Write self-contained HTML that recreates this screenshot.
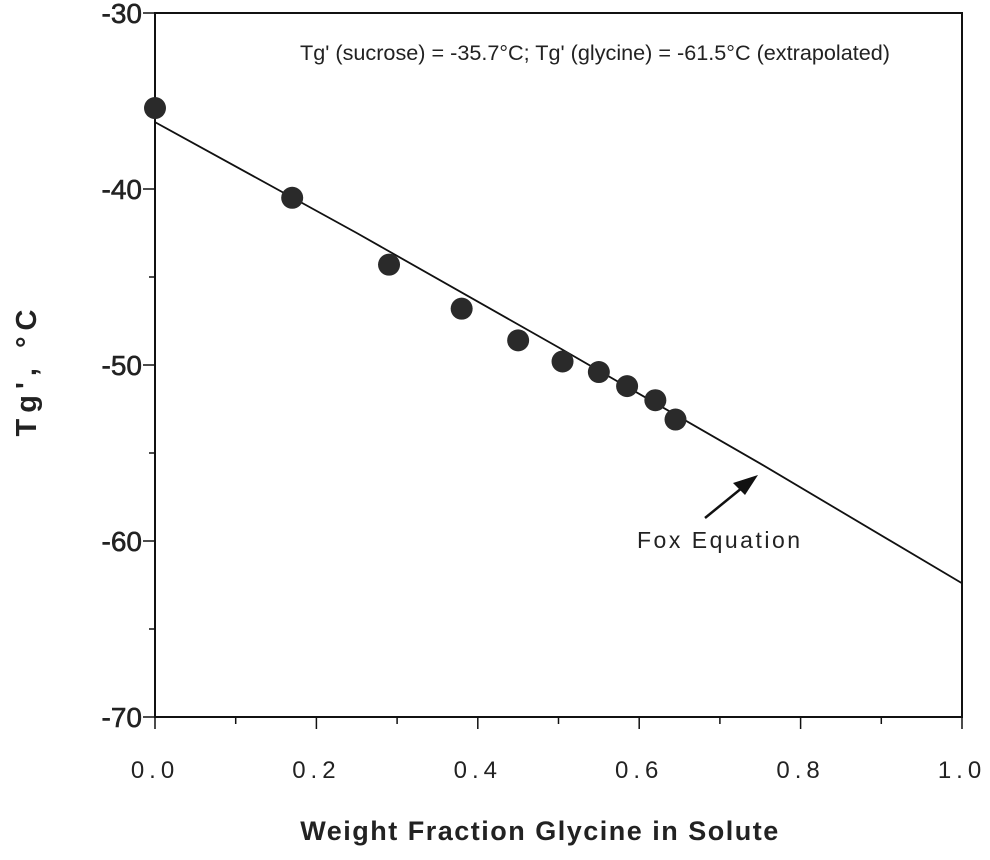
<!DOCTYPE html>
<html><head><meta charset="utf-8"><style>
body{margin:0;background:#fff}
svg text{font-family:"Liberation Sans",sans-serif;fill:#222}
</style></head><body>
<svg id="chart" width="990" height="855">
<g id="g"></g>
</svg>
<script>
const xTicks=[0,0.2,0.4,0.6,0.8,1.0];
const xTickLabels=["0.0","0.2","0.4","0.6","0.8","1.0"];
const yTicks=[-30,-40,-50,-60,-70];
const yTickLabels=["-30","-40","-50","-60","-70"];
const pointX=[0,0.17,0.29,0.38,0.45,0.505,0.55,0.585,0.62,0.645];
const pointY=[-35.4,-40.5,-44.3,-46.8,-48.6,-49.8,-50.4,-51.2,-52.0,-53.1];
const lineX=[0,0.25,0.5,0.75,1.0];
const lineY=[-36.2,-42.5,-49.0,-55.6,-62.4];
const NS="http://www.w3.org/2000/svg";
const g=document.getElementById('g');
const L=155,R=962,T=13,B=717;
const sx=v=>L+v*(R-L);
const sy=v=>T+(-30-v)*(B-T)/40;
function mk(t,a,txt){const e=document.createElementNS(NS,t);for(const k in a)e.setAttribute(k,a[k]);if(txt!==undefined)e.textContent=txt;g.appendChild(e);return e;}
let e=mk('rect',{x:L,y:T,width:R-L,height:B-T,fill:'none',stroke:'#111','stroke-width':2});


for(let i=0;i<=10;i++){const v=i/10;const major=i%2==0;
 e=mk('line',{x1:sx(v),x2:sx(v),y1:B,y2:B+(major?12:7),stroke:'#111','stroke-width':1.5});
 
 }
xTicks.forEach((v,i)=>{
 e=mk('text',{x:sx(v),y:778,'text-anchor':'middle','font-size':24,'letter-spacing':'5'},xTickLabels[i]);
 
 });
for(let i=0;i<=8;i++){const v=-30-i*5;const major=i%2==0;
 e=mk('line',{x1:L-(major?12:6),x2:L,y1:sy(v),y2:sy(v),stroke:'#111','stroke-width':1.5});
 
 }
yTicks.forEach((v,i)=>{
 e=mk('text',{x:142,y:sy(v)+10,'text-anchor':'end','font-size':28,'stroke':'#222','stroke-width':0.6},yTickLabels[i]);
 
 });
e=mk('polyline',{points:lineX.map((v,i)=>sx(v)+','+sy(lineY[i])).join(' '),fill:'none',stroke:'#111','stroke-width':1.8});


pointX.forEach((v,i)=>{
 e=mk('circle',{cx:sx(v),cy:sy(pointY[i]),r:11,fill:'#2a2a2a'});
 
 });
e=mk('text',{x:300,y:60,'font-size':21,textLength:590,lengthAdjust:'spacingAndGlyphs'},"Tg' (sucrose) = -35.7°C; Tg' (glycine) = -61.5°C (extrapolated)");


e=mk('line',{x1:705,y1:518,x2:748,y2:483,stroke:'#111','stroke-width':2.5});


e=mk('polygon',{points:'758,475 733,483 745,495',fill:'#111'});


e=mk('text',{x:637,y:548,'font-size':23,'letter-spacing':'2.5'},"Fox  Equation");


e=mk('text',{x:540,y:840,'text-anchor':'middle','font-size':27,'font-weight':'bold','letter-spacing':'1.5'},"Weight Fraction Glycine in Solute");


e=mk('text',{x:0,y:0,'text-anchor':'middle','font-size':29,'font-weight':'bold','letter-spacing':'6',transform:'translate(36,370) rotate(-90)'},"Tg',  °C");


</script>
</body></html>
